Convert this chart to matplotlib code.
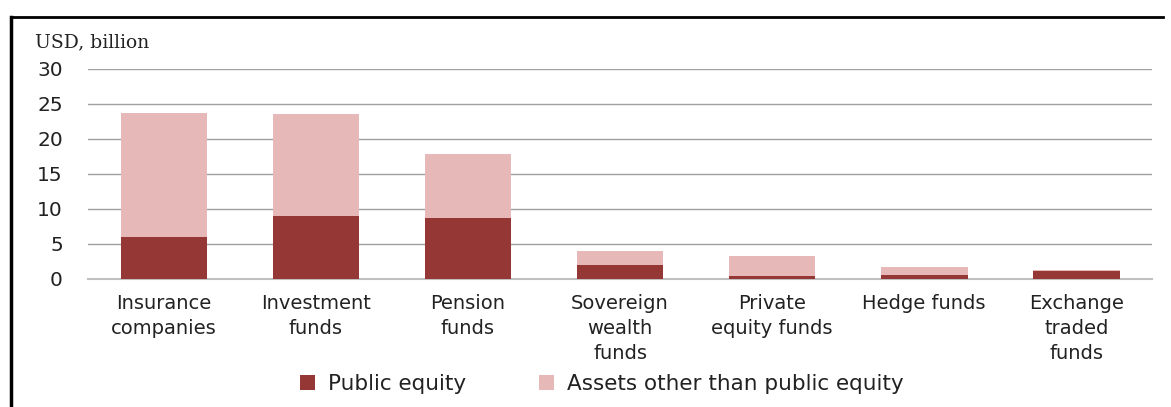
import matplotlib
matplotlib.use("Agg")
import matplotlib.pyplot as plt
from matplotlib.lines import Line2D
import numpy as np

categories = ["Insurance\ncompanies", "Investment\nfunds", "Pension\nfunds", "Sovereign\nwealth\nfunds",
              "Private\nequity funds", "Hedge funds", "Exchange\ntraded\nfunds"]
public_equity = [6.0, 9.0, 8.7, 2.0, 0.4, 0.6, 1.1]
other_assets = [17.7, 14.6, 9.2, 2.0, 2.9, 1.1, 0.2]
yticks = [0, 5, 10, 15, 20, 25, 30]

dark = "#953735"
light = "#e6b9b8"
FONT = "DejaVu Sans"

fig = plt.figure(figsize=(11.71, 4.07), dpi=100)
ax = fig.add_axes([0.075, 0.3145, 0.909, 0.516])
x = np.arange(len(categories))
ax.bar(x, public_equity, width=0.57, color=dark, label="Public equity", zorder=3)
ax.bar(x, other_assets, width=0.57, bottom=public_equity, color=light,
       label="Assets other than public equity", zorder=3)
ax.set_xlim(-0.5, len(categories) - 0.5)
ax.set_ylim(0, 30)
ax.set_yticks(yticks)
ax.set_yticklabels([str(v) for v in yticks], fontfamily=FONT, fontsize=14.5, color="#222222")
ax.yaxis.grid(True, color="#a0a0a0", lw=1, zorder=0)
ax.tick_params(axis="y", length=0, pad=18)
ax.tick_params(axis="x", length=0, pad=11)
ax.set_xticks(x)
ax.set_xticklabels(categories, fontfamily=FONT, fontsize=14, linespacing=1.4, color="#222222")
for s in ["top", "right", "left"]:
    ax.spines[s].set_visible(False)
ax.spines["bottom"].set_color("#bfbfbf")
ax.spines["bottom"].set_linewidth(1.5)

fig.text(35 / 1171, 1 - 42 / 407, "USD, billion", fontfamily="DejaVu Serif", fontsize=13.5,
         va="center", ha="left", color="#222222")

leg = fig.legend(loc="center", bbox_to_anchor=(0.514, 1 - 384 / 407), ncol=2, frameon=False,
                 prop={"family": FONT, "size": 15.5}, handlelength=0.7, handleheight=0.7,
                 columnspacing=3.4, handletextpad=0.6, labelcolor="#222222")

# frame
fig.add_artist(Line2D([11 / 1171, 1163 / 1171], [1 - 17 / 407, 1 - 17 / 407], color="black", lw=2,
                      transform=fig.transFigure))
fig.add_artist(Line2D([11 / 1171, 11 / 1171], [1 - 17 / 407, 0], color="black", lw=2.5,
                      transform=fig.transFigure))

fig.savefig("out.png", dpi=100)
